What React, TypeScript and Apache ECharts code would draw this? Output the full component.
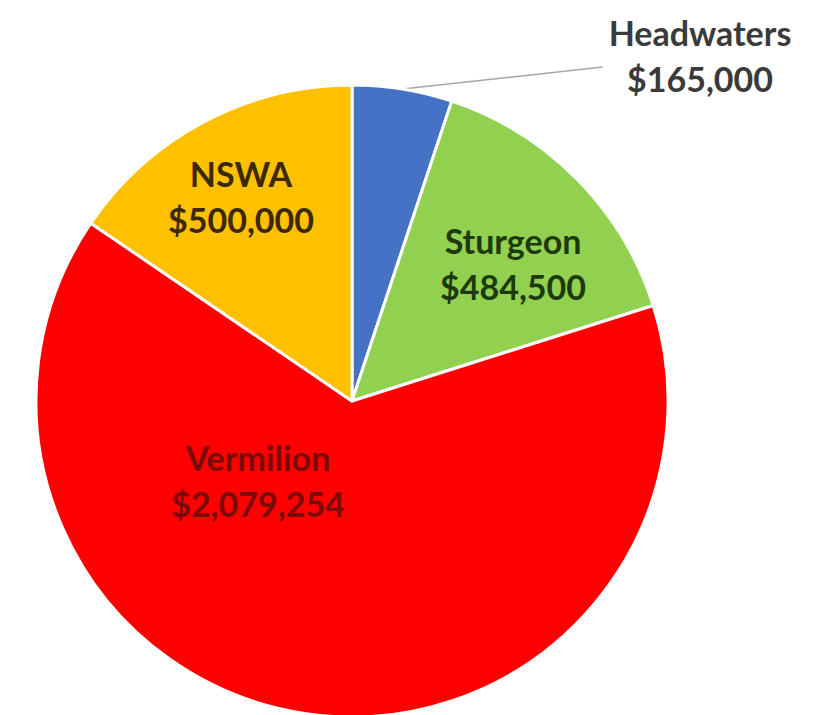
import React, { useEffect, useRef } from "react";
import * as echarts from "echarts";

const categories = ["Headwaters", "Sturgeon", "Vermilion", "NSWA"];
const amounts = [165000, 484500, 2079254, 500000];

const sliceColors = ["#4472C4", "#92D050", "#FF0000", "#FFC000"];
const labelColors = ["#3a3a3a", "#1d3a0c", "#7a0a0a", "#3b2900"];
const labelPos = [
  [700, 55],
  [513, 263],
  [258, 480],
  [241, 196],
];

export default function App() {
  const ref = useRef<HTMLDivElement>(null);
  useEffect(() => {
    if (!ref.current) return;
    const chart = echarts.init(ref.current, undefined, { renderer: "svg" });
    const data = categories.map((name, i) => ({
      name,
      value: amounts[i],
      itemStyle: { color: sliceColors[i] },
      label: {
        color: labelColors[i],
        position: i === 0 ? "outside" : "inside",
      },
      labelLine: { show: i === 0 },
    }));
    chart.setOption({
      animation: false,
      backgroundColor: "#ffffff",
      series: [
        {
          type: "pie",
          center: [352, 401],
          radius: [0, 316],
          startAngle: 90,
          clockwise: true,
          avoidLabelOverlap: false,
          itemStyle: { borderColor: "#ffffff", borderWidth: 3 },
          label: {
            show: true,
            fontFamily: "Lato, 'Open Sans', sans-serif",
            fontWeight: "bold",
            fontSize: 34,
            lineHeight: 46,
            align: "center",
            formatter: (p: any) =>
              p.name + "\n$" + Number(p.value).toLocaleString("en-US"),
          },
          labelLine: {
            lineStyle: { color: "#a6a6a6", width: 1.5 },
            smooth: false,
          },
          labelLayout: (p: any) => {
            const [x, y] = labelPos[p.dataIndex];
            const res: any = { x, y, align: "center", verticalAlign: "middle" };
            if (p.dataIndex === 0 && p.labelLinePoints) {
              const a = p.labelLinePoints[0];
              const end = [x - p.labelRect.width / 2 - 6, y + 12];
              res.labelLinePoints = [
                a,
                [(a[0] + end[0]) / 2, (a[1] + end[1]) / 2],
                end,
              ];
            }
            return res;
          },
          data,
        },
      ],
    });
    return () => chart.dispose();
  }, []);
  return (
    <div
      ref={ref}
      style={{ position: "fixed", left: 0, top: 0, width: 818, height: 715 }}
    />
  );
}
